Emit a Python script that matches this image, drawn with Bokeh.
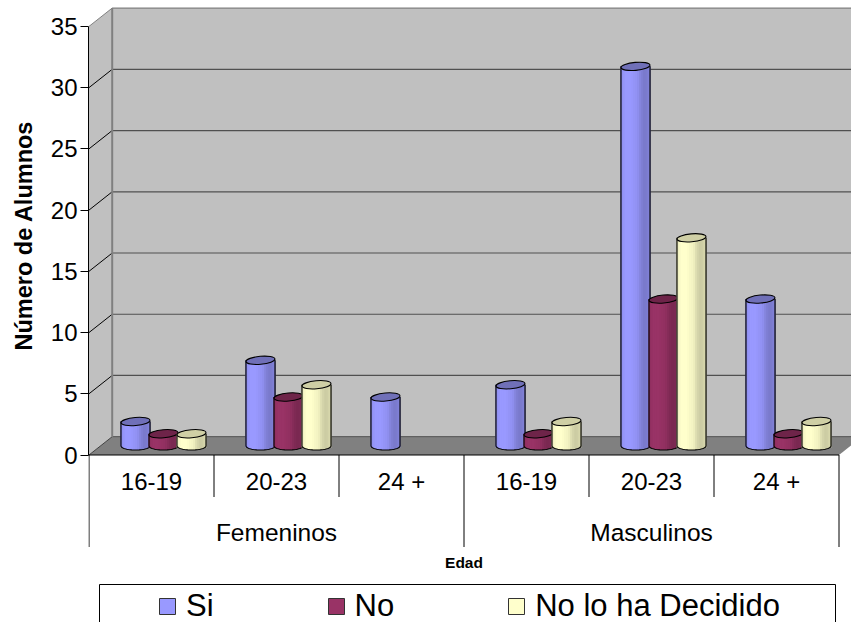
import math
from bokeh.plotting import figure
from bokeh.embed import file_html
from bokeh.resources import INLINE
from bokeh.core.properties import value
from bokeh.models import FixedTicker, Legend, LegendItem, Range1d, Title

age_labels = ["16-19", "20-23", "24 +", "16-19", "20-23", "24 +"]
groups = ["Femeninos", "Masculinos"]
si = [2, 7, 4, 5, 31, 12]
no = [1, 4, 0, 1, 12, 1]
indeciso = [1, 5, 0, 2, 17, 2]
series_names = ["Si", "No", "No lo ha Decidido"]
y_ticks = [0, 5, 10, 15, 20, 25, 30, 35]

FONT = "Liberation Sans"
W, H = 851, 622
LEFT = 88
PX_CAT = 125.0          # pixels per category
PX_UNIT = 12.246        # pixels per value unit
ZERO_PX = 454.5
DX, DY = 23.2 / PX_CAT, 18.3 / PX_UNIT     # depth vector of the 3D box

x0 = -0.5 / PX_CAT
x1 = x0 + (W - LEFT) / PX_CAT
y1 = ZERO_PX / PX_UNIT
y0 = -(H - ZERO_PX) / PX_UNIT

p = figure(width=W, height=H, output_backend="svg", toolbar_location=None,
           x_axis_location=None, x_range=Range1d(x0, x1), y_range=Range1d(y0, y1),
           min_border_left=LEFT, min_border_right=0, min_border_top=0, min_border_bottom=0,
           outline_line_color=None, background_fill_color="white", border_fill_color="white")
p.styles = {"position": "absolute", "left": "0px", "top": "0px"}
p.grid.visible = False

ax = p.yaxis[0]
ax.ticker = FixedTicker(ticks=y_ticks)
ax.bounds = (0, 35)
ax.axis_line_color = "black"
ax.major_tick_line_color = "black"
ax.major_tick_out = 8
ax.major_tick_in = 0
ax.minor_tick_out = 0
ax.minor_tick_in = 0
ax.major_label_text_font = FONT
ax.major_label_text_font_size = "24px"
ax.major_label_text_color = "black"
ax.major_label_standoff = 3

# y axis title: a side title, so that it can start at the span of the axis
p.add_layout(Title(text="Número de Alumnos", align="left", vertical_align="top", offset=272, standoff=18,
                   text_font=FONT, text_font_style="bold", text_font_size="23.5px",
                   text_color="black"), "left")

# --- walls and floor
n_cat = len(age_labels)
FAR = x1 + 1
p.patch([0, DX, DX, 0], [0, DY, 35 + DY, 35], fill_color="#C0C0C0", line_color=None)
p.patch([DX, FAR, FAR, DX], [DY, DY, 35 + DY, 35 + DY], fill_color="#C0C0C0", line_color=None)
p.patch([0, DX, n_cat + DX, n_cat], [0, DY, DY, 0], fill_color="#808080", line_color=None)
t = list(y_ticks)
# back wall grid lines
p.segment([DX] * len(t), [v + DY for v in t], [FAR] * len(t), [v + DY for v in t],
          line_color=["#606060"] + ["#505050"] * (len(t) - 2) + ["#808080"], line_width=1.2)
# side wall grid lines
p.segment([0] * len(t), t, [DX] * len(t), [v + DY for v in t],
          line_color=["#404040"] + ["black"] * (len(t) - 2) + ["#808080"], line_width=1)
p.segment([DX], [DY], [DX], [35 + DY], line_color="#808080", line_width=2)

# --- category box
p.segment([0], [0], [n_cat], [0], line_color="black", line_width=1)
SHORT = -42 / PX_UNIT
LONG = -92 / PX_UNIT
for i in range(n_cat + 1):
    p.segment([i], [0], [i], [LONG if i % 3 == 0 else SHORT], line_color="black", line_width=1)
p.text([i + 0.5 for i in range(n_cat)], [-26.5 / PX_UNIT] * n_cat, text=age_labels,
       text_font=value(FONT), text_font_size=value("24px"), text_align="center",
       text_baseline="middle", text_color="black")
p.text([1.5, 4.5], [-77 / PX_UNIT] * 2, text=groups,
       text_font=value(FONT), text_font_size=value("24.5px"), text_align="center",
       text_baseline="middle", text_color="black")
p.text([3.0], [-107.5 / PX_UNIT], text=["Edad"], text_font=value(FONT), text_font_size=value("15.5px"),
       text_font_style="bold", text_align="center", text_baseline="middle", text_color="black")

# --- cylinders
SHADES = [0.93, 0.98, 1.0, 1.0, 1.0, 0.99, 0.97, 0.96, 0.93, 0.87, 0.83, 0.8, 0.81, 0.84]
BAR_W = 29.0 / PX_CAT
STEP = 28.0 / PX_CAT
SHIFT = 12.0 / PX_CAT
BASE = 9.0 / PX_UNIT
RY = 4.0 / PX_UNIT      # half height of the ellipses


def shade(rgb, f):
    return "#%02x%02x%02x" % tuple(min(255, int(c * f)) for c in rgb)


styles = [
    ((0x99, 0x99, 0xFF), "#7070B8", "#9999FF"),
    ((0x99, 0x33, 0x66), "#6E2449", "#993366"),
    ((0xFF, 0xFF, 0xCC), "#CFCFA5", "#FFFFCC"),
]
all_series = [si, no, indeciso]
legend_items = []
for k, (vals, (rgb, top_col, swatch)) in enumerate(zip(all_series, styles)):
    cxs = [c + 0.5 + SHIFT + (k - 1) * STEP for c in range(n_cat) if vals[c] > 0]
    tops = [BASE + v for v in vals if v > 0]
    base_r = p.vbar(x=cxs, width=BAR_W, bottom=BASE, top=tops, fill_color=swatch, line_color="#333333")
    legend_items.append(LegendItem(label=series_names[k], renderers=[base_r]))

for c in range(n_cat):
    for k, (vals, (rgb, top_col, swatch)) in enumerate(zip(all_series, styles)):
        v = vals[c]
        if v == 0:
            continue
        cx = c + 0.5 + SHIFT + (k - 1) * STEP
        n = len(SHADES)
        w = BAR_W / n
        xs, bots, cols = [], [], []
        for s in range(n):
            xc = cx - BAR_W / 2 + (s + 0.5) * w
            u = (xc - cx) / (BAR_W / 2)
            xs.append(xc)
            bots.append(BASE - RY * math.sqrt(max(0, 1 - u * u)))
            cols.append(shade(rgb, SHADES[s]))
        p.vbar(x=xs, width=w * 1.5, bottom=bots, top=[BASE + v] * n, fill_color=cols, line_color=None)
        # outline: left side, lower half ellipse, right side
        ox, oy = [], []
        for s in range(0, 25):
            a = math.pi * s / 24
            ox.append(cx - BAR_W / 2 * math.cos(a))
            oy.append(BASE - RY * math.sin(a))
        ox = [cx - BAR_W / 2] + ox + [cx + BAR_W / 2]
        oy = [BASE + v] + oy + [BASE + v]
        p.line(ox, oy, line_color="black", line_width=1.1)
        p.ellipse(x=[cx], y=[BASE + v], width=[BAR_W], height=[2 * RY], angle=0.09,
                  fill_color=top_col, line_color="black", line_width=1.1)

# --- legend box, open at the bottom of the page
BOX_L, BOX_R = 10.5 / PX_CAT, 746.5 / PX_CAT
BOX_T = -129.5 / PX_UNIT
p.quad(left=[BOX_L], right=[BOX_R], top=[BOX_T], bottom=[y0 - 2], fill_color="white", line_color="black", line_width=1)

leg = Legend(items=legend_items, orientation="horizontal", location=(69, -2),
             border_line_color=None, background_fill_alpha=0.0,
             label_text_font=FONT, label_text_font_size="31px",
             label_text_color="black", glyph_width=20, glyph_height=20, spacing=112,
             label_standoff=9, padding=0, margin=0)
p.add_layout(leg)

open("out.html", "w").write(file_html(p, INLINE))
